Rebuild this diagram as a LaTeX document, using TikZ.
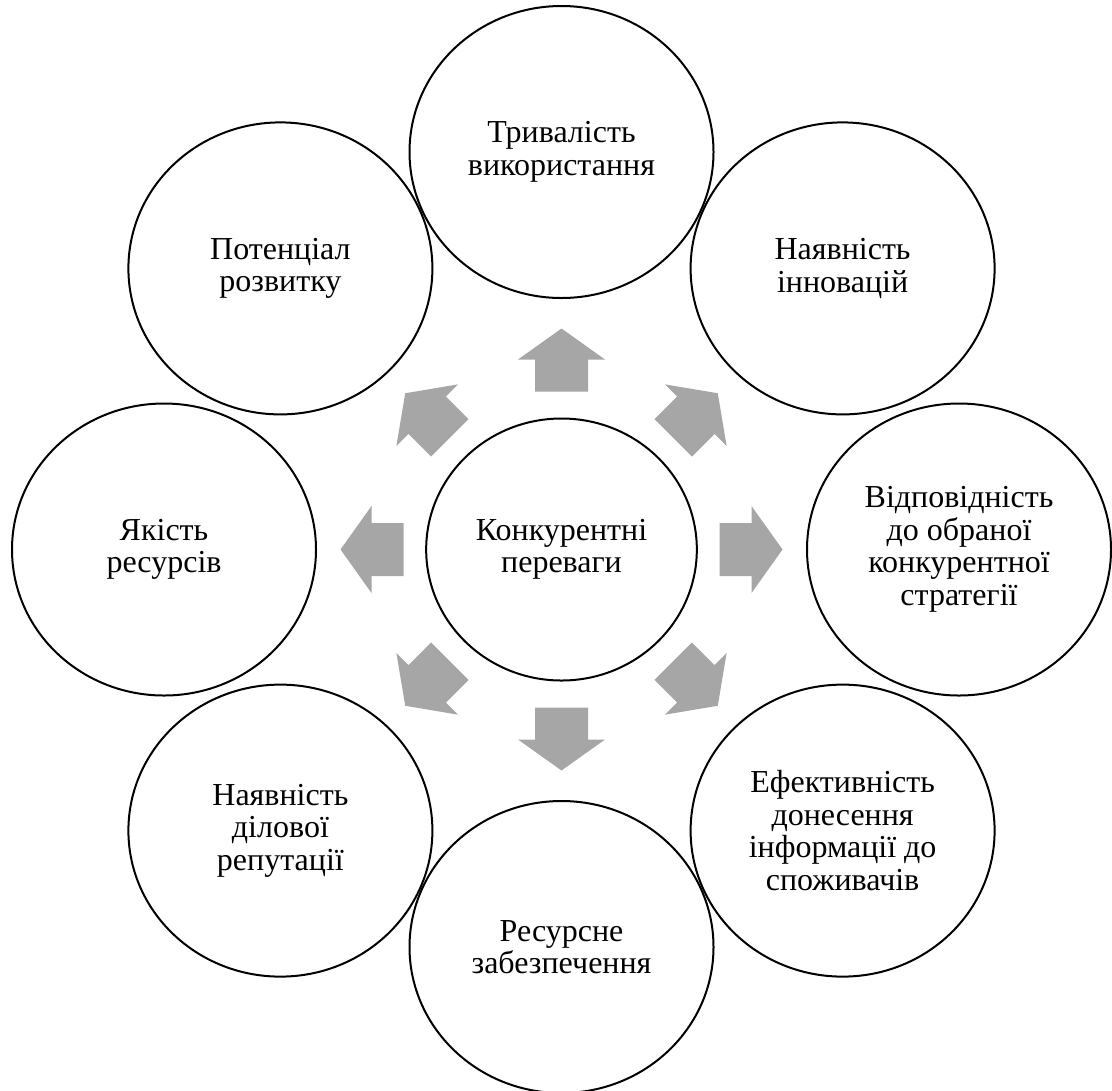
\documentclass[tikz,border=0pt]{standalone}
\usepackage{fontspec}
\setmainfont{Liberation Serif}
\usetikzlibrary{shapes.geometric}
\definecolor{arrowgray}{RGB}{166,166,166}
\begin{document}
\begin{tikzpicture}[x=0.75pt,y=-0.75pt,
  outercirc/.style={ellipse, draw, line width=1.5pt, minimum width=228pt, minimum height=219pt,
    inner sep=0pt, align=center, font=\fontsize{24}{24.4}\selectfont},
  innercirc/.style={outercirc, minimum width=203pt, minimum height=196.5pt},
  blockarrow/.style={fill=arrowgray}]
\useasboundingbox (0,0) rectangle (1112,1090);
\node[innercirc] (C) at (561.5,549.5) {Конкурентні\\переваги};
\node[outercirc] (T)  at (561.5,152)   {Тривалість\\використання};
\node[outercirc] (TR) at (842.6,268.4) {Наявність\\інновацій};
\node[outercirc] (R)  at (959,549.5)   {Відповідність\\до обраної\\конкурентної\\стратегії};
\node[outercirc] (BR) at (842.6,830.6) {Ефективність\\донесення\\інформації до\\споживачів};
\node[outercirc] (B)  at (561.5,947)   {Ресурсне\\забезпечення};
\node[outercirc] (BL) at (280.4,830.6) {Наявність\\ділової\\репутації};
\node[outercirc] (L)  at (164,549.5)   {Якість\\ресурсів};
\node[outercirc] (TL) at (280.4,268.4) {Потенціал\\розвитку};
\foreach \a in {0,45,...,315}
  \fill[blockarrow, shift={(C.center)}, rotate=\a]
    (158,-26.5) -- (190,-26.5) -- (190,-43.5) -- (221,0) -- (190,43.5) -- (190,26.5) -- (158,26.5) -- cycle;
\end{tikzpicture}
\end{document}
